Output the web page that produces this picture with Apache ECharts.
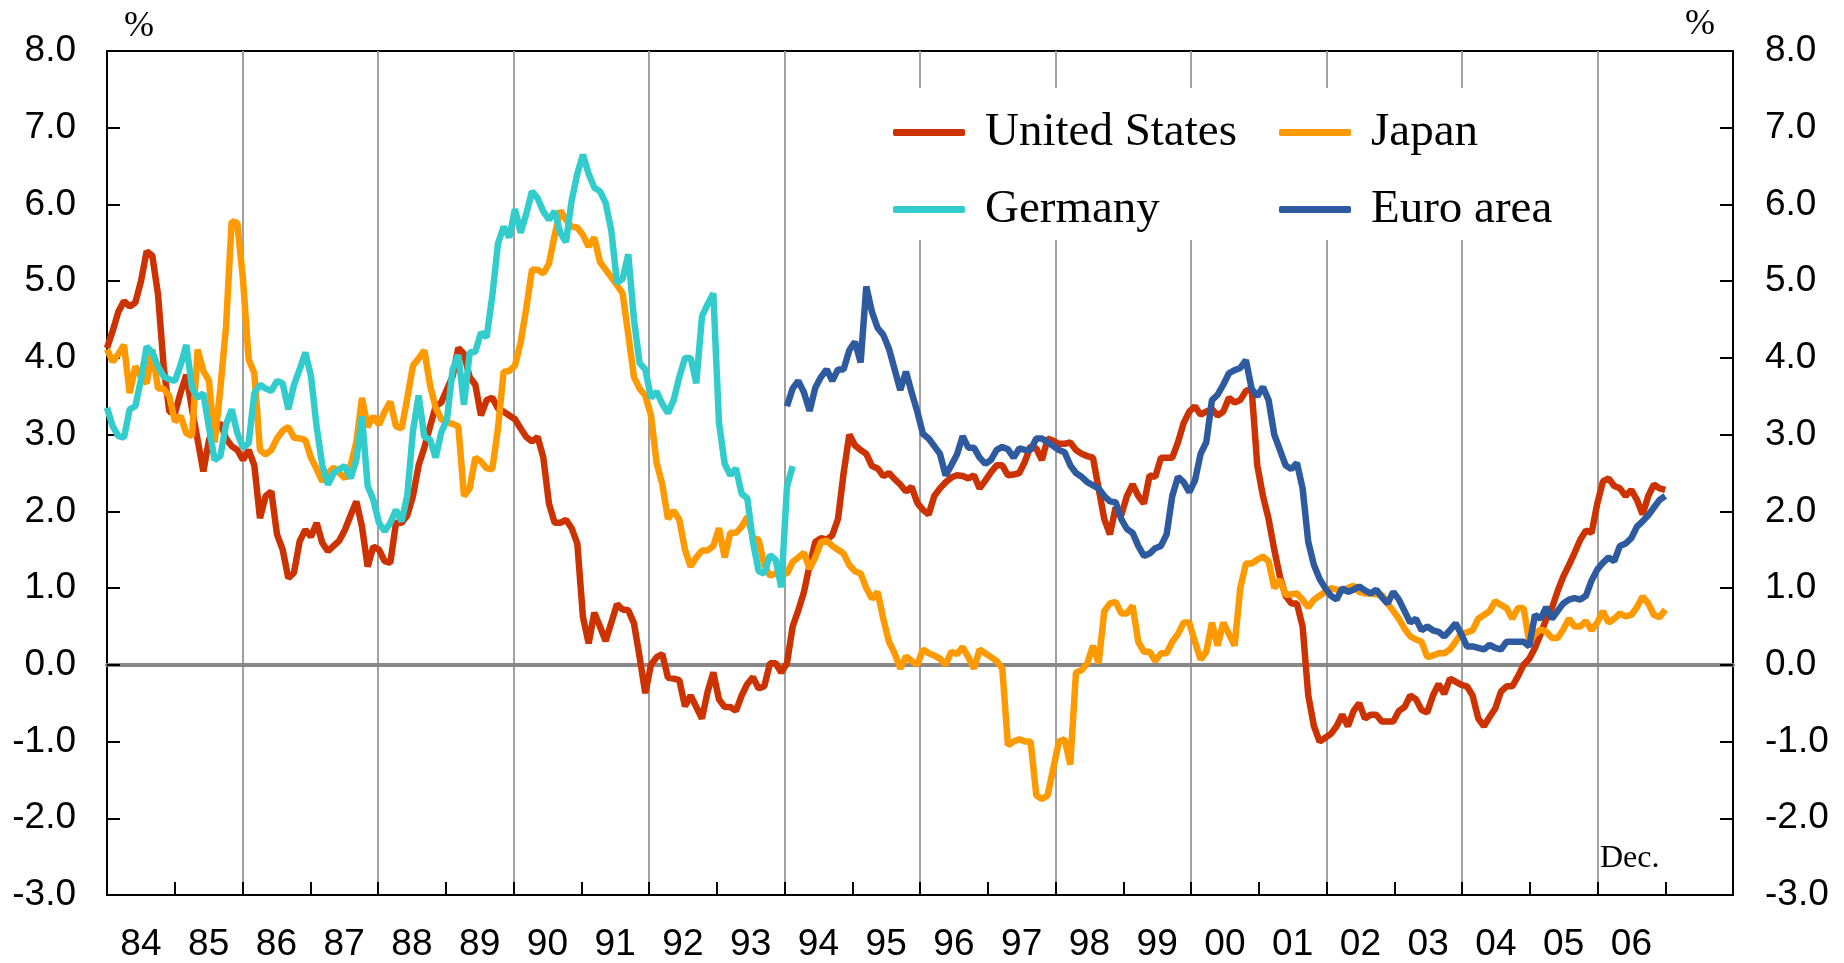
<!DOCTYPE html>
<html lang="en">
<head>
    <meta charset="utf-8">
    <title>Consumer prices</title>
    <script src="https://cdn.jsdelivr.net/npm/echarts@6/dist/echarts.min.js"></script>
    <style>
        body { margin: 0; background: #fff; }
    </style>
</head>
<body>
<div id="main" style="width: 1844px;height:963px;"></div>

<script type="text/javascript">
    // monthly y/y %, Jan 1984 .. Dec 2006
    var usCpi = [
        4.13, 4.35, 4.6, 4.74, 4.67, 4.72, 5.0, 5.39, 5.33, 4.83, 3.89, 3.3,
        3.28, 3.55, 3.78, 3.33, 2.93, 2.52, 2.93, 3.1, 3.15, 2.95, 2.85, 2.8,
        2.67, 2.8, 2.6, 1.91, 2.2, 2.26, 1.7, 1.5, 1.13, 1.2, 1.61, 1.76,
        1.67, 1.85, 1.59, 1.48, 1.55, 1.62, 1.76, 1.95, 2.13, 1.8, 1.28, 1.54,
        1.5, 1.35, 1.33, 1.85, 1.85, 1.95, 2.2, 2.6, 2.83, 3.1, 3.37, 3.42,
        3.59, 3.76, 4.13, 4.05, 3.75, 3.65, 3.25, 3.45, 3.48, 3.34, 3.3, 3.25,
        3.2, 3.08, 2.97, 2.91, 2.97, 2.7, 2.1, 1.85, 1.85, 1.89, 1.78, 1.58,
        0.62, 0.28, 0.68, 0.5, 0.31, 0.55, 0.79, 0.72, 0.71, 0.54, 0.1, -0.37,
        0.0, 0.1, 0.14, -0.17, -0.18, -0.2, -0.54, -0.4, -0.55, -0.7, -0.35, -0.1,
        -0.45, -0.55, -0.55, -0.6, -0.4, -0.25, -0.16, -0.31, -0.28, 0.02, 0.02, -0.1,
        0.02, 0.5, 0.71, 0.95, 1.3, 1.6, 1.65, 1.63, 1.69, 1.9, 2.5, 3.0,
        2.86, 2.8, 2.75, 2.59, 2.56, 2.46, 2.5, 2.42, 2.35, 2.26, 2.32, 2.11,
        2.02, 1.96, 2.2, 2.3, 2.38, 2.44, 2.47, 2.46, 2.43, 2.47, 2.3, 2.4,
        2.51, 2.6, 2.6, 2.47, 2.48, 2.5, 2.65, 2.85, 2.82, 2.67, 2.95, 2.92,
        2.88, 2.88, 2.9, 2.8, 2.75, 2.72, 2.7, 2.3, 1.9, 1.7, 2.05, 1.95,
        2.2, 2.35, 2.2, 2.1, 2.47, 2.45, 2.7, 2.7, 2.7, 2.9, 3.15, 3.3,
        3.37, 3.26, 3.3, 3.33, 3.25, 3.3, 3.48, 3.42, 3.45, 3.57, 3.6, 2.6,
        2.2, 1.9, 1.5, 1.15, 0.9, 0.8, 0.8, 0.5, -0.4, -0.8, -1.0, -0.95,
        -0.9, -0.8, -0.65, -0.8, -0.6, -0.5, -0.7, -0.65, -0.65, -0.74, -0.74, -0.74,
        -0.6, -0.55, -0.4, -0.45, -0.59, -0.62, -0.4, -0.25, -0.38, -0.18, -0.22, -0.26,
        -0.28, -0.4, -0.7, -0.8, -0.68, -0.57, -0.35, -0.28, -0.28, -0.15, 0.0, 0.08,
        0.22, 0.4, 0.6, 0.74, 0.96, 1.15, 1.3, 1.46, 1.63, 1.75, 1.72, 2.1,
        2.39, 2.43, 2.33, 2.3, 2.2, 2.28, 2.15, 1.96, 2.2, 2.35, 2.3, 2.28
    ];

    var japanCpi = [
        4.11, 3.95, 4.05, 4.17, 3.54, 3.89, 3.75, 3.67, 4.11, 3.6, 3.6, 3.5,
        3.17, 3.24, 3.02, 2.98, 4.11, 3.83, 3.7, 2.9, 3.6, 4.4, 5.78, 5.76,
        5.02, 3.98, 3.8, 2.8, 2.74, 2.8, 2.95, 3.05, 3.1, 2.96, 2.95, 2.93,
        2.7, 2.55, 2.39, 2.5, 2.57, 2.5, 2.43, 2.6, 2.9, 3.48, 3.1, 3.24,
        3.13, 3.3, 3.43, 3.11, 3.08, 3.48, 3.9, 3.99, 4.1, 3.65, 3.35, 3.2,
        3.16, 3.14, 3.11, 2.2, 2.3, 2.7, 2.65, 2.56, 2.55, 3.08, 3.82, 3.83,
        3.9, 4.2, 4.65, 5.15, 5.15, 5.1, 5.23, 5.6, 5.92, 5.8, 5.71, 5.7,
        5.6, 5.45, 5.57, 5.25, 5.15, 5.05, 4.95, 4.84, 4.3, 3.75, 3.6, 3.51,
        3.25, 2.63, 2.35, 1.9, 2.01, 1.89, 1.5, 1.28, 1.4, 1.49, 1.49, 1.55,
        1.78, 1.4, 1.72, 1.72, 1.8, 1.93, 1.66, 1.63, 1.3, 1.16, 1.19, 1.19,
        1.19, 1.34, 1.4, 1.46, 1.25, 1.4, 1.6, 1.62, 1.55, 1.5, 1.45, 1.3,
        1.22, 1.19, 1.0, 0.86, 0.95, 0.6, 0.3, 0.15, -0.05, 0.11, 0.05, 0.0,
        0.2, 0.15, 0.12, 0.08, 0.0, 0.17, 0.14, 0.23, 0.1, -0.05, 0.2, 0.15,
        0.1, 0.05, -0.05, -1.05, -1.0, -0.97, -1.0, -1.0, -1.7, -1.75, -1.7, -1.35,
        -1.0, -0.97, -1.3, -0.1, -0.07, 0.02, 0.25, 0.02, 0.7, 0.8, 0.82, 0.67,
        0.67, 0.77, 0.3, 0.17, 0.17, 0.05, 0.15, 0.15, 0.3, 0.4, 0.55, 0.55,
        0.3, 0.07, 0.17, 0.55, 0.25, 0.55, 0.4, 0.25, 1.0, 1.32, 1.32, 1.37,
        1.41, 1.35, 1.0, 1.11, 0.91, 0.92, 0.93, 0.85, 0.75, 0.85, 0.9, 0.95,
        1.0, 0.98, 0.96, 1.0, 1.03, 0.95, 0.93, 0.93, 0.92, 0.91, 0.8, 0.7,
        0.6, 0.47, 0.37, 0.33, 0.3, 0.1, 0.12, 0.15, 0.15, 0.2, 0.3, 0.41,
        0.42, 0.45, 0.6, 0.65, 0.7, 0.83, 0.78, 0.74, 0.6, 0.74, 0.74, 0.3,
        0.4, 0.46, 0.43, 0.35, 0.35, 0.46, 0.6, 0.5, 0.5, 0.57, 0.45, 0.55,
        0.7, 0.55, 0.6, 0.67, 0.63, 0.65, 0.75, 0.89, 0.8, 0.65, 0.62, 0.72
    ];

    // Jan 1984 .. Feb 1994
    var germanyCpi = [
        3.35, 3.11, 2.98, 2.96, 3.33, 3.37, 3.72, 4.15, 4.07, 3.89, 3.76, 3.72,
        3.7, 3.91, 4.17, 3.61, 3.48, 3.54, 3.09, 2.67, 2.72, 3.13, 3.33, 3.02,
        2.83, 2.89, 3.54, 3.65, 3.6, 3.57, 3.7, 3.67, 3.33, 3.65, 3.85, 4.07,
        3.76, 3.1, 2.6, 2.35, 2.5, 2.55, 2.59, 2.43, 2.67, 3.24, 2.33, 2.15,
        1.85, 1.74, 1.85, 2.02, 1.87, 2.21, 3.05, 3.51, 2.97, 2.94, 2.7, 3.03,
        3.2, 3.85, 4.04, 3.39, 4.07, 4.08, 4.33, 4.27, 4.81, 5.49, 5.71, 5.57,
        5.94, 5.63, 5.88, 6.17, 6.08, 5.91, 5.8, 5.91, 5.63, 5.51, 6.05, 6.4,
        6.65, 6.4, 6.22, 6.17, 6.02, 5.66, 4.98, 5.03, 5.35, 4.5, 3.93, 3.85,
        3.48, 3.56, 3.4, 3.28, 3.45, 3.75, 4.0, 4.0, 3.67, 4.54, 4.7, 4.84,
        3.16, 2.62, 2.47, 2.56, 2.23, 2.17, 1.6, 1.22, 1.19, 1.43, 1.37, 1.01,
        2.32, 2.59
    ];

    // Jan 1994 .. Dec 2006
    var euroStart = 120;
    var euroCpi = [
        3.37, 3.6, 3.7, 3.55, 3.31, 3.61, 3.75, 3.85, 3.7, 3.85, 3.85, 4.1,
        4.21, 3.94, 4.93, 4.6, 4.39, 4.3, 4.12, 3.85, 3.58, 3.82, 3.55, 3.3,
        3.01, 2.95, 2.85, 2.75, 2.47, 2.6, 2.74, 2.98, 2.83, 2.83, 2.7, 2.62,
        2.67, 2.8, 2.84, 2.81, 2.7, 2.82, 2.8, 2.8, 2.95, 2.95, 2.9, 2.85,
        2.8, 2.77, 2.6, 2.5, 2.45, 2.38, 2.34, 2.3, 2.2, 2.13, 2.12, 1.9,
        1.77, 1.72, 1.55, 1.42, 1.45, 1.52, 1.55, 1.7, 2.2, 2.45, 2.38, 2.25,
        2.4, 2.75, 2.9, 3.45, 3.52, 3.65, 3.8, 3.84, 3.87, 3.97, 3.6, 3.5,
        3.62, 3.45, 3.0, 2.8, 2.6, 2.55, 2.63, 2.3, 1.6, 1.3, 1.12, 1.0,
        0.9, 0.85, 1.0, 0.95, 0.98, 1.02, 0.97, 0.93, 0.98, 0.88, 0.8, 0.95,
        0.85, 0.7, 0.55, 0.6, 0.45, 0.5, 0.45, 0.43, 0.37, 0.45, 0.54, 0.4,
        0.24, 0.24, 0.22, 0.2, 0.26, 0.22, 0.2, 0.3, 0.3, 0.3, 0.3, 0.24,
        0.65, 0.6, 0.75, 0.6, 0.7, 0.8, 0.85, 0.87, 0.85, 0.9, 1.1, 1.24,
        1.33, 1.4, 1.35, 1.55, 1.58, 1.65, 1.8, 1.87, 1.95, 2.05, 2.15, 2.2
    ];

    var yearLabels = ['84', '85', '86', '87', '88', '89', '90', '91', '92', '93', '94',
        '95', '96', '97', '98', '99', '00', '01', '02', '03', '04', '05', '06'];

    // month index -> position on the year axis (Jan 84 at 1984, Dec 06 at 2007)
    function toPoints(values, start) {
        return values.map(function (v, k) {
            return [1984 + (start + k) * 23 / 275, v];
        });
    }

    var sans = 'Liberation Sans';
    var serif = 'Liberation Serif';
    var lineW = 6.5;

    var myChart = echarts.init(document.getElementById('main'));

    var legendBase = {
        orient: 'vertical',
        top: 88,
        padding: [16, 10, 2, 13],
        backgroundColor: '#fff',
        icon: 'roundRect',
        itemWidth: 72,
        itemHeight: 7,
        itemGap: 20,
        selectedMode: false,
        textStyle: {
            fontFamily: serif,
            fontSize: 47,
            color: '#000',
            lineHeight: 57,
            padding: [0, 0, 0, 15]
        }
    };

    var option = {
        animation: false,
        backgroundColor: '#fff',
        grid: {
            left: 107, right: 111, top: 51, bottom: 68,
            show: true, borderColor: '#000', borderWidth: 2
        },
        legend: [
            Object.assign({}, legendBase, {left: 880, data: ['United States', 'Germany']}),
            Object.assign({}, legendBase, {left: 1266, data: ['Japan', 'Euro area']})
        ],
        xAxis: [
            {
                type: 'value', min: 1984, max: 2008, interval: 1,
                axisLine: {onZero: false, lineStyle: {color: '#000', width: 2}},
                axisTick: {inside: true, length: 13, lineStyle: {color: '#000', width: 2}},
                axisLabel: {show: false},
                splitLine: {show: false}
            },
            {
                // grid lines every 2 years and the zero line
                type: 'value', min: 1984, max: 2008, interval: 2, position: 'bottom',
                axisLine: {onZero: true, lineStyle: {color: '#888888', width: 4}},
                axisTick: {show: false},
                axisLabel: {show: false},
                splitLine: {show: true, lineStyle: {color: '#a0a0a0', width: 2}}
            },
            {
                type: 'value', min: 1984, max: 2008, interval: 0.5, position: 'bottom',
                axisLine: {show: false, onZero: false},
                axisTick: {show: false},
                splitLine: {show: false},
                axisLabel: {
                    margin: 31,
                    fontFamily: sans,
                    fontSize: 37,
                    color: '#000',
                    formatter: function (v) {
                        var k = Math.floor(v);
                        if (Math.abs(v - k - 0.5) > 0.01) return '';
                        return yearLabels[k - 1984] || '';
                    }
                }
            }
        ],
        yAxis: [
            {
                type: 'value', min: -3, max: 8, interval: 1, position: 'left',
                axisLine: {show: true, onZero: false, lineStyle: {color: '#000', width: 2}},
                axisTick: {show: true, inside: true, length: 13, lineStyle: {color: '#000', width: 2}},
                splitLine: {show: false},
                axisLabel: {
                    margin: 31, fontFamily: sans, fontSize: 37, color: '#000',
                    formatter: function (v) { return v.toFixed(1); }
                }
            },
            {
                type: 'value', min: -3, max: 8, interval: 1, position: 'right',
                axisLine: {show: true, onZero: false, lineStyle: {color: '#000', width: 2}},
                axisTick: {show: true, inside: true, length: 13, lineStyle: {color: '#000', width: 2}},
                splitLine: {show: false},
                axisLabel: {
                    margin: 32, fontFamily: sans, fontSize: 37, color: '#000',
                    formatter: function (v) { return v.toFixed(1); }
                }
            }
        ],
        graphic: [
            {type: 'text', left: 124, top: 9, style: {text: '%', font: '36px "Liberation Serif"', fill: '#000'}},
            {type: 'text', left: 1685, top: 7, style: {text: '%', font: '36px "Liberation Serif"', fill: '#000'}},
            {type: 'text', left: 1600, top: 843, style: {text: 'Dec.', font: '32px "Liberation Serif"', fill: '#000'}}
        ],
        series: [
            {
                name: 'United States', type: 'line', xAxisIndex: 0, yAxisIndex: 0,
                showSymbol: false, data: toPoints(usCpi, 0),
                itemStyle: {color: '#cc3300'}, lineStyle: {color: '#cc3300', width: lineW}
            },
            {
                name: 'Japan', type: 'line', xAxisIndex: 0, yAxisIndex: 0,
                showSymbol: false, data: toPoints(japanCpi, 0),
                itemStyle: {color: '#ff9900'}, lineStyle: {color: '#ff9900', width: lineW}
            },
            {
                name: 'Germany', type: 'line', xAxisIndex: 0, yAxisIndex: 0,
                showSymbol: false, data: toPoints(germanyCpi, 0),
                itemStyle: {color: '#33cccc'}, lineStyle: {color: '#33cccc', width: lineW}
            },
            {
                name: 'Euro area', type: 'line', xAxisIndex: 0, yAxisIndex: 0,
                showSymbol: false, data: toPoints(euroCpi, euroStart),
                itemStyle: {color: '#2e5a9f'}, lineStyle: {color: '#2e5a9f', width: lineW}
            }
        ]
    };

    myChart.setOption(option);
</script>

</body>
</html>
